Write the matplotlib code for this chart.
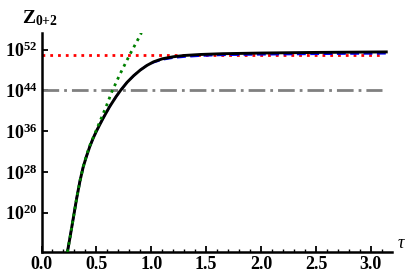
import numpy as np
import matplotlib
matplotlib.use('Agg')
import matplotlib.pyplot as plt
from matplotlib.ticker import FixedLocator, MultipleLocator, NullLocator

# values (tau, log10 Z)
tauFull  = [0.236, 0.26, 0.29, 0.32, 0.35, 0.38, 0.41, 0.44, 0.47, 0.50, 0.56, 0.62, 0.68, 0.72,
            0.78, 0.84, 0.90, 0.96, 1.02, 1.10, 1.20, 1.30, 1.45, 1.65, 2.0, 2.5, 3.14]
logFull  = [12.3, 15.2, 19.0, 22.8, 26.2, 29.0, 31.1, 33.0, 34.6, 36.0, 38.5, 40.8, 42.8, 44.0,
            45.6, 46.9, 48.0, 48.9, 49.6, 50.2, 50.6, 50.85, 51.05, 51.2, 51.33, 51.45, 51.55]
logApprx = [12.3, 15.2, 19.0, 22.8, 26.2, 29.0, 31.1, 33.0, 34.6, 36.0, 38.5, 40.8, 42.8, 44.0,
            45.6, 46.9, 48.0, 48.9, 49.5, 50.05, 50.4, 50.6, 50.8, 50.95, 51.05, 51.15, 51.25]
tauEarly = [0.236, 0.26, 0.29, 0.32, 0.35, 0.38, 0.41, 0.44, 0.47, 0.53, 0.59, 0.64, 0.715,
            0.806, 0.891, 0.91]
logEarly = [12.3, 15.2, 19.0, 22.8, 26.2, 29.0, 31.3, 33.2, 34.7, 37.8, 40.9, 43.7, 47.2,
            51.1, 54.5, 55.3]
tauLevel    = [0.0, 3.1]
logSaturate = 51.0
logCross    = 44.0

yTickExp = [20, 28, 36, 44, 52]
xTicks   = [0.0, 0.5, 1.0, 1.5, 2.0, 2.5, 3.0]

plt.rcParams['mathtext.fontset'] = 'custom'
plt.rcParams['mathtext.rm'] = 'Liberation Serif:bold'
plt.rcParams['mathtext.bf'] = 'Liberation Serif:bold'
plt.rcParams['mathtext.it'] = 'Liberation Serif:italic:bold'

fig = plt.figure(figsize=(4.15, 2.8), dpi=100)
ax = fig.add_axes([0.1, 0.1, 0.844, 0.781])

p = lambda v: 10.0 ** np.array(v)

ax.plot(tauLevel, p([logSaturate, logSaturate]), color='red', lw=2.0,
        dashes=(1, 1.8), dash_capstyle='butt', zorder=2)
ax.plot(tauLevel, p([logCross, logCross]), color='gray', lw=2.0,
        dashes=(6, 1.8, 1, 1.8), dash_capstyle='butt', zorder=2)
ax.plot(tauFull, p(logApprx), color='blue', lw=1.6, dashes=(4, 2), zorder=3)
ax.plot(tauFull, p(logFull), color='black', lw=2.1, zorder=4)
ax.plot(tauEarly, p(logEarly), color='green', lw=2.0,
        dashes=(1, 1.6), dash_capstyle='butt', zorder=5)

ax.set_yscale('log')
ax.set_xlim(0, 3.19)
ax.set_ylim(10 ** 12.3, 10 ** 55.2)

ax.spines['top'].set_visible(False)
ax.spines['right'].set_visible(False)
ax.spines['left'].set_linewidth(1.8)
ax.spines['bottom'].set_linewidth(1.8)

ax.yaxis.set_major_locator(FixedLocator([10.0 ** e for e in yTickExp]))
ax.yaxis.set_minor_locator(NullLocator())
ax.set_yticklabels([r'$\mathbf{10^{%d}}$' % e for e in yTickExp], fontsize=13)
ax.set_xticks(xTicks)
ax.set_xticklabels(['%.1f' % t for t in xTicks], fontsize=13,
                   family='Liberation Serif', fontweight='bold')
ax.xaxis.set_minor_locator(MultipleLocator(0.1))

ax.tick_params(axis='both', which='major', direction='in', length=4, width=1.3, pad=3)
ax.tick_params(axis='x', which='minor', direction='in', length=2, width=1.0)

fig.text(0.053, 0.935, r'$\mathbf{Z_{0{+}2}}$', fontsize=14, va='center', ha='left')
fig.text(0.958, 0.13, 'τ', fontsize=13, family='Liberation Serif', style='italic',
         va='center', ha='left')

fig.savefig('out.png', dpi=100)
